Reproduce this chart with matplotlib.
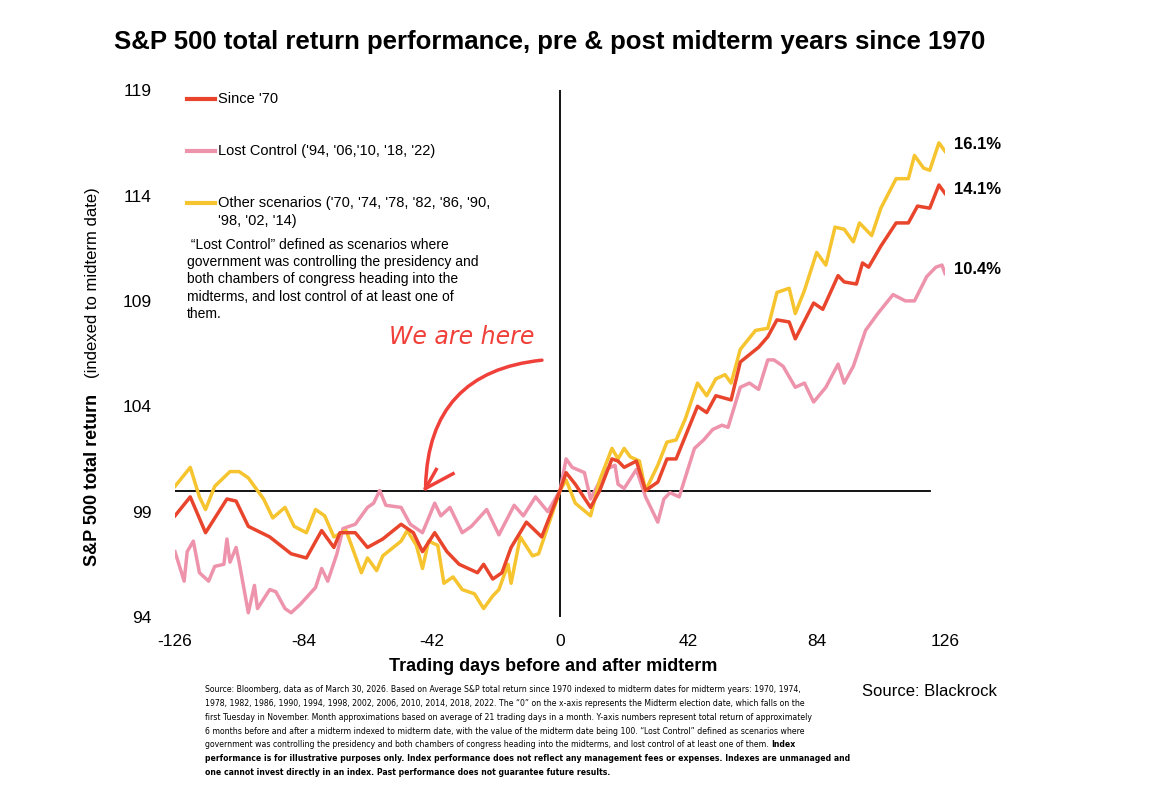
import matplotlib
matplotlib.use("Agg")
import matplotlib.pyplot as plt

plt.rcParams['font.family'] = ['Liberation Sans', 'DejaVu Sans']

# ---- data ----
red_days = [-126,-121,-116,-109,-106,-102,-95,-88,-83,-78,-74,-72,-67,-63,-58,-52,-48,-45,-41,-37,-33,-27,-25,-22,-19,-16,-11,-6,
            0,2,5,10,13,17,19,21,25,28,32,35,38,45,48,51,56,59,65,68,71,75,77,83,86,91,93,97,99,101,105,110,114,117,121,124,126]
red_vals = [98.8,99.7,98.0,99.6,99.5,98.3,97.8,97.0,96.8,98.1,97.3,98.0,98.0,97.3,97.7,98.4,98.0,97.1,98.0,97.1,96.5,96.1,96.5,95.8,96.1,97.3,98.5,97.8,
            100,100.85,100.3,99.2,100,101.5,101.4,101.1,101.4,100,100.4,101.5,101.5,104.0,103.7,104.5,104.3,106.1,106.8,107.3,108.1,108.0,107.2,108.9,108.6,110.2,109.9,109.8,110.8,110.6,111.6,112.7,112.7,113.5,113.4,114.5,114.1]

yel_days = [-126,-121,-118,-116,-113,-108,-105,-102,-97,-94,-90,-87,-83,-80,-77,-74,-70,-65,-63,-60,-58,-52,-50,-47,-45,-43,-40,-38,-35,-32,-28,-25,-22,-20,-17,-16,-13,-9,-7,
            0,2,5,10,13,17,19,21,23,26,28,32,35,38,41,45,48,51,54,56,59,64,68,71,75,77,80,84,87,90,93,96,98,102,105,110,114,116,119,121,124,126]
yel_vals = [100.2,101.1,99.7,99.1,100.2,100.9,100.9,100.6,99.6,98.7,99.2,98.3,98.0,99.1,98.8,97.8,98.1,96.1,96.8,96.2,96.9,97.6,98.1,97.4,96.3,97.6,97.4,95.6,95.9,95.3,95.1,94.4,95.0,95.3,96.5,95.6,97.8,96.9,97.0,
            100,100.5,99.4,98.8,100.5,102.0,101.5,102.0,101.6,101.4,100,101.2,102.3,102.4,103.4,105.1,104.5,105.3,105.5,105.1,106.7,107.6,107.7,109.4,109.6,108.4,109.5,111.3,110.7,112.5,112.4,111.8,112.7,112.1,113.4,114.8,114.8,115.9,115.3,115.2,116.5,116.1]

pink_days = [-126,-123,-122,-120,-118,-115,-113,-110,-109,-108,-106,-105,-102,-100,-99,-95,-93,-90,-88,-85,-80,-78,-76,-73,-71,-67,-63,-61,-59,-57,-52,-49,-45,-41,-39,-36,-32,-29,-24,-20,-15,-12,-8,-4,
             0,2,4,8,10,15,18,19,21,25,28,32,34,36,39,44,47,50,53,55,59,62,65,68,70,73,77,80,83,87,91,93,96,100,104,109,113,116,120,123,125,126]
pink_vals = [97.1,95.7,97.1,97.6,96.1,95.7,96.4,96.5,97.7,96.6,97.3,96.6,94.2,95.5,94.4,95.3,95.2,94.4,94.2,94.6,95.4,96.3,95.7,97.0,98.2,98.4,99.2,99.4,100.0,99.3,99.2,98.4,98.0,99.4,98.8,99.2,98.0,98.3,99.1,97.9,99.3,98.8,99.7,99.0,
             100,101.5,101.1,100.85,99.6,101.0,101.2,100.3,100.1,101.0,99.7,98.5,99.6,99.9,99.7,102.0,102.4,102.9,103.1,103.0,104.9,105.1,104.8,106.2,106.2,105.9,104.9,105.1,104.2,104.9,106.0,105.1,105.9,107.6,108.4,109.3,109.0,109.0,110.15,110.6,110.7,110.3]

xticks = [-126, -84, -42, 0, 42, 84, 126]
yticks = [94, 99, 104, 109, 114, 119]
end_labels = ["16.1%", "14.1%", "10.4%"]

RED, PINK, YEL = "#E8452C", "#EE93AC", "#F6C42E"

fig = plt.figure(figsize=(11.55, 7.91), dpi=100)
ax = fig.add_axes([0.1515, 0.22, 0.6667, 0.666])
ax.set_xlim(-126, 126)
ax.set_ylim(94, 119)
for s in ax.spines.values():
    s.set_visible(False)
ax.set_xticks(xticks)
ax.set_yticks(yticks)
ax.set_xticklabels([str(t) for t in xticks])
ax.tick_params(length=0, labelsize=12.5)
ax.tick_params(axis='x', pad=12)
ax.tick_params(axis='y', pad=17)
ax.plot(pink_days, pink_vals, color=PINK, lw=2.5, zorder=3)
ax.plot(yel_days, yel_vals, color=YEL, lw=2.5, zorder=4)
ax.plot(red_days, red_vals, color=RED, lw=2.5, zorder=5)
ax.plot([-126, 121], [100, 100], color="black", lw=1.3, zorder=2)
ax.axvline(0, color="black", lw=1.3, zorder=2)

# end labels
for lab, v in zip(end_labels, [116.4, 114.3, 110.5]):
    ax.text(129, v, lab, fontsize=12, fontweight="bold", va="center", ha="left", clip_on=False)

# legend
def leg(y, c, txt):
    ax.plot([-122, -113], [y, y], color=c, lw=3, clip_on=False)
    ax.text(-112, y, txt, fontsize=10.5, va="center", ha="left")
leg(118.6, RED, "Since '70")
leg(116.1, PINK, "Lost Control ('94, '06,'10, '18, '22)")
leg(113.65, YEL, "Other scenarios ('70, '74, '78, '82, '86, '90,")
ax.text(-112, 112.8, "'98, '02, '14)", fontsize=10.5, va="center", ha="left")
ax.text(-122, 112.0, " \u201cLost Control\u201d defined as scenarios where\ngovernment was controlling the presidency and\n"
        "both chambers of congress heading into the\nmidterms, and lost control of at least one of\nthem.",
        fontsize=10, va="top", ha="left", linespacing=1.3)

# annotation
ax.text(-56, 107.3, "We are here", color="#F0403A", fontsize=17, style="italic", va="center", ha="left",
        family=["DejaVu Sans"])
ax.annotate("", xy=(-44, 100.1), xytext=(-5, 106.2),
            arrowprops=dict(arrowstyle="-", color="#F0403A", lw=2.5,
                            connectionstyle="arc3,rad=0.45"))
ax.plot([-44, -40.5], [100.1, 101.0], color="#F0403A", lw=2.5)
ax.plot([-44, -35], [100.1, 100.8], color="#F0403A", lw=2.5)

# titles / labels
fig.text(0.099, 0.947, "S&P 500 total return performance, pre & post midterm years since 1970",
         fontsize=18.5, fontweight="bold", ha="left", va="center")
fig.text(0.479, 0.158, "Trading days before and after midterm", fontsize=13, fontweight="bold",
         ha="center", va="center")
fig.text(0.080, 0.393, "S&P 500 total return", fontsize=13, fontweight="bold", rotation=90,
         ha="center", va="center")
fig.text(0.080, 0.643, "(indexed to midterm date)", fontsize=12, rotation=90, ha="center", va="center")
fig.text(0.746, 0.126, "Source: Blackrock", fontsize=12, ha="left", va="center")

foot = [
    ("Source: Bloomberg, data as of March 30, 2026. Based on Average S&P total return since 1970 indexed to midterm dates for midterm years: 1970, 1974,", ""),
    ("1978, 1982, 1986, 1990, 1994, 1998, 2002, 2006, 2010, 2014, 2018, 2022. The \u201c0\u201d on the x-axis represents the Midterm election date, which falls on the", ""),
    ("first Tuesday in November. Month approximations based on average of 21 trading days in a month. Y-axis numbers represent total return of approximately", ""),
    ("6 months before and after a midterm indexed to midterm date, with the value of the midterm date being 100. \u201cLost Control\u201d defined as scenarios where", ""),
    ("government was controlling the presidency and both chambers of congress heading into the midterms, and lost control of at least one of them. ", "Index"),
    ("", "performance is for illustrative purposes only. Index performance does not reflect any management fees or expenses. Indexes are unmanaged and"),
    ("", "one cannot invest directly in an index. Past performance does not guarantee future results."),
]
fig.canvas.draw()
r = fig.canvas.get_renderer()
x0 = 205 / 1155
for i, (norm, bold) in enumerate(foot):
    y = 1 - (690 + i * 13.7) / 791
    xb = x0
    if norm:
        t = fig.text(x0, y, norm, fontsize=5.6, ha="left", va="center", family=["DejaVu Sans"])
        bb = t.get_window_extent(renderer=r)
        xb = bb.x1 / 1155
    if bold:
        fig.text(xb, y, bold, fontsize=5.6, fontweight="bold", ha="left", va="center", family=["DejaVu Sans"])

fig.savefig("out.png", dpi=100)
